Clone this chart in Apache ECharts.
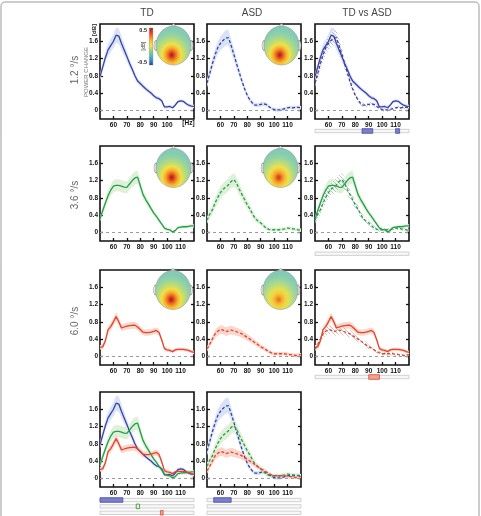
<!DOCTYPE html>
<html><head><meta charset="utf-8">
<script src="https://cdn.jsdelivr.net/npm/echarts@6/dist/echarts.min.js"></script>
<style>html,body{margin:0;padding:0;background:#fff}#c{width:481px;height:516px}</style>
</head><body><div id="c"></div>
<script>
// ---------- data ----------
const hz = [50,52,54,56,58,60,62,64,66,68,70,72,74,76,78,80,82,84,86,88,90,92,94,96,98,100,102,104,106,108,110,112,114,116,118,120];
const xLabelVals = [60,70,80,90,100,110];
const yTicks = [0,0.4,0.8,1.2,1.6];
const colTitles = ['TD','ASD','TD vs ASD'];
const rowLabels = ['1.2 °/s','3.6 °/s','6.0 °/s'];

const td12  = [0.78,1.00,1.22,1.40,1.50,1.60,1.74,1.72,1.55,1.40,1.25,1.09,0.95,0.80,0.68,0.62,0.56,0.50,0.45,0.40,0.34,0.29,0.27,0.22,0.08,0.08,0.09,0.06,0.12,0.20,0.22,0.21,0.16,0.12,0.10,0.09];
const asd12 = [0.63,0.85,1.08,1.28,1.45,1.55,1.62,1.68,1.68,1.50,1.30,1.08,0.88,0.68,0.50,0.35,0.24,0.16,0.12,0.12,0.14,0.15,0.14,0.09,0.04,0.02,0.01,0.01,0.02,0.04,0.06,0.07,0.06,0.07,0.07,0.06];
const td36  = [0.31,0.50,0.68,0.85,0.98,1.07,1.09,1.09,1.07,1.05,1.04,1.12,1.20,1.26,1.28,1.08,0.88,0.76,0.66,0.55,0.45,0.37,0.28,0.19,0.10,0.07,0.06,0.01,0.04,0.11,0.12,0.13,0.13,0.14,0.15,0.15];
const asd36 = [0.28,0.42,0.52,0.68,0.81,0.92,1.00,1.05,1.10,1.18,1.22,1.14,1.00,0.88,0.76,0.64,0.54,0.42,0.32,0.26,0.22,0.16,0.10,0.07,0.06,0.06,0.06,0.06,0.07,0.08,0.10,0.09,0.08,0.07,0.06,0.05];
const td60  = [0.21,0.22,0.36,0.62,0.69,0.80,0.92,0.80,0.66,0.68,0.70,0.71,0.72,0.72,0.68,0.62,0.56,0.55,0.55,0.56,0.58,0.60,0.55,0.38,0.18,0.15,0.14,0.11,0.15,0.16,0.16,0.16,0.15,0.14,0.11,0.09];
const asd60 = [0.17,0.28,0.40,0.52,0.58,0.62,0.61,0.57,0.59,0.61,0.59,0.57,0.55,0.52,0.48,0.44,0.40,0.36,0.31,0.27,0.22,0.19,0.15,0.11,0.08,0.06,0.06,0.06,0.06,0.06,0.05,0.04,0.03,0.02,0.03,0.04];

// half widths of the shaded error bands
const hTd12  = [0.08,0.10,0.12,0.14,0.15,0.16,0.18,0.18,0.16,0.14,0.12,0.10,0.09,0.08,0.07,0.06,0.06,0.05,0.05,0.05,0.05,0.05,0.05,0.05,0.04,0.04,0.04,0.04,0.04,0.04,0.04,0.04,0.04,0.04,0.04,0.04];
const hAsd12 = [0.10,0.12,0.13,0.14,0.15,0.16,0.17,0.18,0.18,0.16,0.14,0.12,0.10,0.08,0.07,0.06,0.05,0.05,0.05,0.05,0.05,0.05,0.05,0.04,0.04,0.04,0.04,0.04,0.04,0.04,0.04,0.04,0.04,0.04,0.04,0.04];
const hTd36  = [0.06,0.08,0.10,0.12,0.13,0.14,0.14,0.14,0.14,0.14,0.14,0.14,0.15,0.15,0.15,0.13,0.11,0.10,0.09,0.08,0.07,0.06,0.06,0.05,0.05,0.04,0.04,0.04,0.04,0.04,0.04,0.04,0.04,0.04,0.04,0.04];
const hAsd36 = [0.08,0.10,0.11,0.12,0.13,0.14,0.14,0.15,0.15,0.15,0.15,0.14,0.13,0.12,0.11,0.10,0.09,0.08,0.07,0.06,0.05,0.05,0.05,0.04,0.04,0.04,0.04,0.04,0.04,0.04,0.04,0.04,0.04,0.04,0.04,0.04];
const hTd60  = [0.05,0.06,0.07,0.08,0.09,0.09,0.10,0.09,0.08,0.08,0.08,0.08,0.08,0.08,0.08,0.08,0.07,0.07,0.07,0.07,0.07,0.07,0.07,0.06,0.05,0.05,0.04,0.04,0.04,0.04,0.04,0.04,0.04,0.04,0.04,0.04];
const hAsd60 = [0.06,0.07,0.08,0.09,0.10,0.10,0.10,0.10,0.10,0.10,0.10,0.09,0.09,0.09,0.08,0.08,0.07,0.07,0.06,0.06,0.05,0.05,0.05,0.04,0.04,0.04,0.04,0.04,0.04,0.04,0.04,0.04,0.04,0.04,0.04,0.04];

// significance intervals [fromHz, toHz]
const sig12 = [[85,93],[110,113]];
const sig36 = [];
const sig60 = [[90,98]];
const sigTdBlue = [[50,67]], sigTdGreen = [[77,79.5]], sigTdRed = [[95,97]];
const sigAsdBlue = [[55,68]], sigAsdGreen = [], sigAsdRed = [];

// ---------- layout / style ----------
const FONT = "'Liberation Sans',Arial,sans-serif";
const SANS = "'Liberation Sans',Arial,sans-serif";
const W = 94, H = 95;
const colLeft = [100, 207, 315];
const rowTop = [24, 146, 270, 392];
const styles = [
  {line:'#3b3fa6', band:'#d8e4f6', hatch:'rgba(80,86,140,0.75)', sigFill:'#7b7ecd', sigStroke:'#4a4ea8'},
  {line:'#20a04a', band:'#dff0d8', hatch:'rgba(70,110,80,0.75)', sigFill:'#eef5c4', sigStroke:'#2f8a3a'},
  {line:'#e2452b', band:'#fad6cc', hatch:'rgba(140,95,85,0.75)', sigFill:'#f4a08e', sigStroke:'#d0503a'}
];
const conds = [
  {td:td12, asd:asd12, htd:hTd12, hasd:hAsd12},
  {td:td36, asd:asd36, htd:hTd36, hasd:hAsd36},
  {td:td60, asd:asd60, htd:hTd60, hasd:hAsd60}
];

const grids = [], xAxes = [], yAxes = [], series = [];
let stackN = 0;

function hatchPattern(color) {
  const c = document.createElement('canvas');
  c.width = 4; c.height = 4;
  const g = c.getContext('2d');
  g.fillStyle = 'rgba(255,255,255,0.5)';
  g.fillRect(0,0,4,4);
  g.strokeStyle = color; g.lineWidth = 0.5;
  g.beginPath();
  g.moveTo(0,0); g.lineTo(4,4);
  g.moveTo(3,-1); g.lineTo(5,1);
  g.moveTo(-1,3); g.lineTo(1,5);
  g.stroke();
  return c;
}

function addPanel(left, top, hideLast) {
  const gi = grids.length;
  grids.push({left, top, width:W, height:H, show:true, borderColor:'#111', borderWidth:1.6, backgroundColor:'rgba(0,0,0,0)'});
  const xi = xAxes.length;
  xAxes.push({
    type:'category', gridIndex:gi, data:hz.map(String), boundaryGap:false, position:'bottom',
    axisLine:{show:false, onZero:false}, splitLine:{show:false},
    axisTick:{show:true, inside:true, length:3, lineStyle:{color:'#111', width:1.3},
      interval:(i,v)=>xLabelVals.includes(+v)},
    axisLabel:{interval:(i,v)=>xLabelVals.includes(+v), hideOverlap:false,
      formatter:v=>(hideLast && +v===110) ? '' : v,
      fontSize:6.5, fontWeight:'bold', color:'#111', margin:3, fontFamily:FONT}
  });
  const yi = yAxes.length;
  yAxes.push({
    type:'value', gridIndex:gi, min:-0.2, max:2.0, position:'left',
    axisLine:{show:false, onZero:false}, splitLine:{show:false},
    axisTick:{show:true, inside:true, length:3, customValues:yTicks, lineStyle:{color:'#111', width:1.3}},
    axisLabel:{show:true, customValues:yTicks, formatter:v=>v===0?'0':v.toFixed(1),
      fontSize:6.5, fontWeight:'bold', color:'#111', margin:2, fontFamily:FONT}
  });
  yAxes.push({
    type:'value', gridIndex:gi, min:-0.2, max:2.0, position:'right',
    axisLine:{show:false, onZero:false}, splitLine:{show:false},
    axisTick:{show:true, inside:true, length:3, customValues:yTicks, lineStyle:{color:'#111', width:1.3}},
    axisLabel:{show:false}
  });
  return {xi, yi, first:true};
}

function addBand(p, vals, half, fill) {
  const key = 'band' + (stackN++);
  const lower = vals.map((v,i)=>+(v - half[i]).toFixed(3));
  const width = half.map(h=>+(2*h).toFixed(3));
  series.push({type:'line', xAxisIndex:p.xi, yAxisIndex:p.yi, data:lower, stack:key, stackStrategy:'all',
    symbol:'none', lineStyle:{opacity:0}, silent:true, z:1});
  series.push({type:'line', xAxisIndex:p.xi, yAxisIndex:p.yi, data:width, stack:key, stackStrategy:'all',
    symbol:'none', lineStyle:{opacity:0}, areaStyle:{color:fill, opacity:1}, silent:true, z:1});
}

function addLine(p, vals, color, dashed) {
  const s = {type:'line', xAxisIndex:p.xi, yAxisIndex:p.yi, data:vals, symbol:'none', silent:true, z:3,
    lineStyle:{color, width:1.3, type: dashed ? [3,2] : 'solid'}};
  if (p.first) {
    p.first = false;
    s.markLine = {silent:true, symbol:'none', label:{show:false},
      lineStyle:{color:'#9a9a9a', type:[3,3], width:1}, data:[{yAxis:0}]};
  }
  series.push(s);
}

function rectRender(h, style) {
  return (params, api) => {
    const a = api.coord([api.value(0), api.value(2) + 0.5]);
    const b = api.coord([api.value(1), api.value(2) + 0.5]);
    return {type:'rect', shape:{x:a[0], y:a[1]-h/2, width:b[0]-a[0], height:h}, style};
  };
}

function addSig(left, top, height, rows) {
  const gi = grids.length;
  grids.push({left, top, width:W, height, show:false});
  const xi = xAxes.length;
  xAxes.push({type:'value', gridIndex:gi, min:hz[0], max:hz[hz.length-1], show:false});
  const yi = yAxes.length;
  yAxes.push({type:'value', gridIndex:gi, min:0, max:rows.length, inverse:true, show:false});
  series.push({type:'custom', xAxisIndex:xi, yAxisIndex:yi, silent:true, z:2,
    encode:{x:[0,1], y:2},
    data:rows.map((r,i)=>[hz[0], hz[hz.length-1], i]),
    renderItem:rectRender(3.4, {fill:'#f7f7f7', stroke:'#c6c6c6', lineWidth:0.8})});
  rows.forEach((r,i)=>{
    if (!r.iv.length) return;
    series.push({type:'custom', xAxisIndex:xi, yAxisIndex:yi, silent:true, z:3,
      encode:{x:[0,1], y:2},
      data:r.iv.map(v=>[v[0], v[1], i]),
      renderItem:rectRender(4.6, {fill:r.st.sigFill, stroke:r.st.sigStroke, lineWidth:0.8})});
  });
}

// ---------- panels ----------
conds.forEach((c, r) => {
  const st = styles[r];
  const pTd = addPanel(colLeft[0], rowTop[r], r === 0);
  addBand(pTd, c.td, c.htd, st.band);
  addLine(pTd, c.td, st.line, false);

  const pAsd = addPanel(colLeft[1], rowTop[r], false);
  addBand(pAsd, c.asd, c.hasd, st.band);
  addLine(pAsd, c.asd, st.line, true);

  const pCmp = addPanel(colLeft[2], rowTop[r], false);
  addBand(pCmp, c.td, c.htd, st.band);
  addBand(pCmp, c.asd, c.hasd, {image:hatchPattern(st.hatch), repeat:'repeat'});
  addLine(pCmp, c.td, st.line, false);
  addLine(pCmp, c.asd, st.line, true);
});
const sigTopCmp = [129, 251.7, 375];
addSig(colLeft[2], sigTopCmp[0], 4, [{iv:sig12, st:styles[0]}]);
addSig(colLeft[2], sigTopCmp[1], 4, [{iv:sig36, st:styles[1]}]);
addSig(colLeft[2], sigTopCmp[2], 4, [{iv:sig60, st:styles[2]}]);

// row 4: overlays
const pAllTd = addPanel(colLeft[0], rowTop[3], false);
conds.forEach((c,r)=>addBand(pAllTd, c.td, c.htd, styles[r].band));
conds.forEach((c,r)=>addLine(pAllTd, c.td, styles[r].line, false));
const pAllAsd = addPanel(colLeft[1], rowTop[3], false);
conds.forEach((c,r)=>addBand(pAllAsd, c.asd, c.hasd, styles[r].band));
conds.forEach((c,r)=>addLine(pAllAsd, c.asd, styles[r].line, true));
addSig(colLeft[0], 496.8, 19.5, [{iv:sigTdBlue, st:styles[0]},{iv:sigTdGreen, st:styles[1]},{iv:sigTdRed, st:styles[2]}]);
addSig(colLeft[1], 496.8, 19.5, [{iv:sigAsdBlue, st:styles[0]},{iv:sigAsdGreen, st:styles[1]},{iv:sigAsdRed, st:styles[2]}]);

// ---------- decorations ----------
const gfx = [];
gfx.push({type:'rect', shape:{x:1, y:2, width:478, height:540, r:4}, style:{fill:'none', stroke:'#bdbdbd', lineWidth:1.5}, z:-1});
const titleX = [147, 252, 367];
colTitles.forEach((t,i)=>gfx.push({type:'text', x:titleX[i], y:13,
  style:{text:t, fontSize:10, fill:'#444', align:'center', verticalAlign:'middle', fontFamily:SANS}}));
const rowLabelY = [70, 195, 321];
rowLabels.forEach((t,i)=>gfx.push({type:'text', x:75, y:rowLabelY[i], rotation:Math.PI/2,
  style:{text:t, fontSize:10, fill:'#666', align:'center', verticalAlign:'middle', fontFamily:SANS}}));
gfx.push({type:'text', x:86, y:72, rotation:Math.PI/2,
  style:{text:'POWER CHANGE', fontSize:6, fill:'#777', align:'center', verticalAlign:'middle', fontFamily:SANS}});
gfx.push({type:'text', x:94.5, y:30, rotation:Math.PI/2,
  style:{text:'[dB]', fontSize:6, fontWeight:'bold', fill:'#222', align:'center', verticalAlign:'middle', fontFamily:FONT}});
gfx.push({type:'text', x:188.5, y:123.5,
  style:{text:'[Hz]', fontSize:6.5, fontWeight:'bold', fill:'#111', align:'center', verticalAlign:'middle', fontFamily:FONT}});

// colour bar
gfx.push({type:'rect', shape:{x:149.3, y:28, width:3.6, height:37},
  style:{fill:{type:'linear', x:0, y:0, x2:0, y2:1, colorStops:[
    {offset:0, color:'#b51d14'},{offset:0.15, color:'#f0451e'},{offset:0.32, color:'#fbb02a'},
    {offset:0.48, color:'#eee84a'},{offset:0.62, color:'#98d16f'},{offset:0.76, color:'#3fbfc6'},
    {offset:0.9, color:'#2f7fd0'},{offset:1, color:'#23379e'}]}, stroke:'#777', lineWidth:0.4}});
gfx.push({type:'text', x:147, y:30, style:{text:'0.5', fontSize:5.5, fontWeight:'bold', fill:'#222', align:'right', verticalAlign:'middle', fontFamily:FONT}});
gfx.push({type:'text', x:147, y:62.5, style:{text:'-0.5', fontSize:5.5, fontWeight:'bold', fill:'#222', align:'right', verticalAlign:'middle', fontFamily:FONT}});
gfx.push({type:'text', x:144, y:46, rotation:Math.PI/2, style:{text:'[dB]', fontSize:5, fill:'#333', align:'center', verticalAlign:'middle', fontFamily:FONT}});

// scalp maps
const headStops = [
  ['#e66a22','#f09028','#f6b530','#f2d23e','#e2e052','#bcdc78','#98d3a0','#82ccb4'],
  ['#c83a1e','#e25a20','#f29428','#f7c034','#ece24e','#bfdc74','#98d3a0','#82ccb4'],
  ['#9a2418','#cf3a1f','#ee6e22','#f7b02c','#efe04a','#bedc72','#98d3a0','#82ccb4']
];
const stopOffsets = [0,0.09,0.18,0.3,0.44,0.6,0.8,1];
function head(cx, cy, lvl) {
  const rx = 17.5, ry = 19.5;
  gfx.push({type:'polyline', shape:{points:[[cx-3.5, cy-ry+1.5],[cx, cy-ry-2.5],[cx+3.5, cy-ry+1.5]]},
    style:{fill:'#e6e6e6', stroke:'#999', lineWidth:0.6}, z:4});
  [-1,1].forEach(s=>gfx.push({type:'circle', x:cx+s*rx, y:cy, scaleY:2.4, shape:{cx:0, cy:0, r:2},
    style:{fill:'#e6e6e6', stroke:'#999', lineWidth:0.5}, z:4}));
  gfx.push({type:'circle', x:cx, y:cy, scaleY:ry/rx, shape:{cx:0, cy:0, r:rx},
    style:{fill:{type:'radial', x:0.45, y:0.74, r:0.62,
      colorStops:headStops[lvl].map((c,i)=>({offset:stopOffsets[i], color:c}))},
      stroke:'#999', lineWidth:0.6}, z:5});
}
head(173.5, 45.5, 2); head(281.5, 45.5, 2);
head(173.5, 168, 2);  head(280.5, 168, 1);
head(173, 290, 2);    head(280.5, 290, 0);

const chart = echarts.init(document.getElementById('c'), null, {renderer:'canvas'});
chart.setOption({
  animation:false,
  backgroundColor:'#fff',
  grid:grids, xAxis:xAxes, yAxis:yAxes, series,
  graphic:{elements:gfx}
});
</script>
</body></html>
